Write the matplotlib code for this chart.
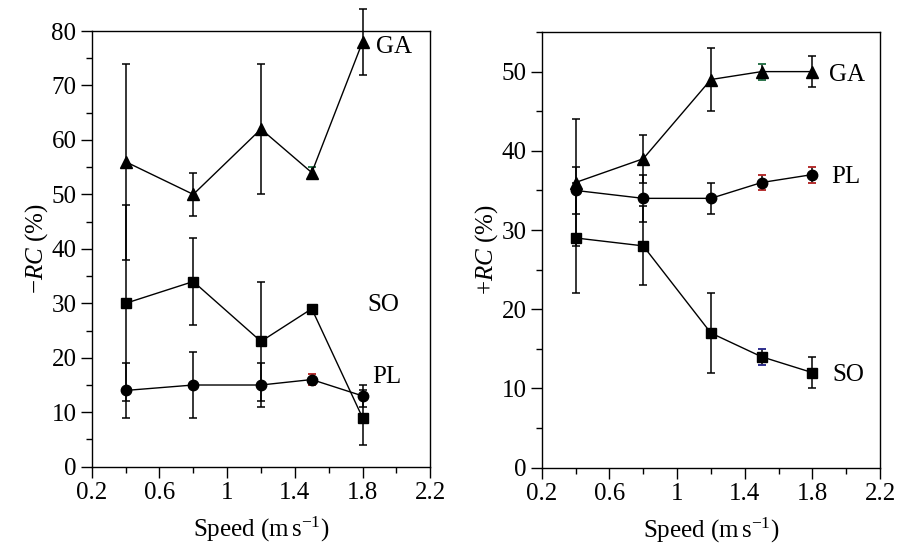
import matplotlib
matplotlib.use("Agg")
import matplotlib.pyplot as plt
from matplotlib.ticker import MultipleLocator

plt.rcParams['font.family'] = ['Liberation Serif', 'DejaVu Serif']
plt.rcParams['mathtext.fontset'] = 'custom'
plt.rcParams['mathtext.rm'] = 'Liberation Serif'
plt.rcParams['mathtext.it'] = 'Liberation Serif:italic'

speed = [0.4, 0.8, 1.2, 1.5, 1.8]

# Left panel: -RC (%)
neg_GA = [56, 50, 62, 54, 78]
neg_GA_err = [18, 4, 12, 1, 6]
neg_SO = [30, 34, 23, 29, 9]
neg_SO_err = [18, 8, 11, 0.6, 5]
neg_PL = [14, 15, 15, 16, 13]
neg_PL_err = [5, 6, 4, 1, 2]

# Right panel: +RC (%)
pos_GA = [36, 39, 49, 50, 50]
pos_GA_err = [8, 3, 4, 1, 2]
pos_PL = [35, 34, 34, 36, 37]
pos_PL_err = [3, 3, 2, 1, 1]
pos_SO = [29, 28, 17, 14, 12]
pos_SO_err = [7, 5, 5, 1, 2]

xticks = [0.2, 0.6, 1.0, 1.4, 1.8, 2.2]
xticklabels = ['0.2', '0.6', '1', '1.4', '1.8', '2.2']

fig = plt.figure(figsize=(9.1, 5.47), dpi=100)
axL = fig.add_axes([0.1008, 0.1468, 0.372, 0.7965])
axR = fig.add_axes([0.5953, 0.1450, 0.3718, 0.7965])

FS = 18

def series(ax, y, err, marker, ms, tiny_color):
    ax.plot(speed, y, color='black', lw=1.0, marker=marker, ms=ms,
            mfc='black', mec='black', zorder=3)
    for xx, yy, ee in zip(speed, y, err):
        ax.errorbar([xx], [yy], yerr=[ee], fmt='none', ecolor='black',
                    elinewidth=1.1, capsize=3, capthick=1.1, zorder=2)
        if ee <= 1:
            ax.errorbar([xx], [yy], yerr=[ee], fmt='none', ecolor=tiny_color,
                        elinewidth=0, capsize=3, capthick=1.1, zorder=2.5)

def style(ax, ymax, ymajor, yminor):
    ax.set_xlim(0.2, 2.2)
    ax.set_ylim(0, ymax)
    ax.set_xticks(xticks)
    ax.set_xticklabels(xticklabels)
    ax.xaxis.set_minor_locator(MultipleLocator(0.2))
    ax.yaxis.set_major_locator(MultipleLocator(ymajor))
    ax.yaxis.set_minor_locator(MultipleLocator(yminor))
    ax.tick_params(which='major', direction='out', length=8, width=1.0,
                   labelsize=FS, top=False, right=False, pad=3)
    ax.tick_params(which='minor', direction='out', length=4, width=1.0,
                   top=False, right=False)
    for s in ax.spines.values():
        s.set_linewidth(1.0)
    ax.set_xlabel('Speed (m$\\,$s$^{-1}$)', fontsize=FS, labelpad=8)

series(axL, neg_GA, neg_GA_err, '^', 8, '#2e8b57')
series(axL, neg_PL, neg_PL_err, 'o', 7.5, '#dd3333')
series(axL, neg_SO, neg_SO_err, 's', 7.5, '#3333aa')
style(axL, 80, 10, 5)
axL.set_ylabel('$-\\mathit{RC}$ (%)', fontsize=FS, labelpad=1)
axL.text(1.88, 77.0, 'GA', fontsize=FS, va='center', ha='left')
axL.text(1.83, 29.6, 'SO', fontsize=FS, va='center', ha='left')
axL.text(1.86, 16.5, 'PL', fontsize=FS, va='center', ha='left')

series(axR, pos_GA, pos_GA_err, '^', 8, '#2e8b57')
series(axR, pos_PL, pos_PL_err, 'o', 7.5, '#dd3333')
series(axR, pos_SO, pos_SO_err, 's', 7.5, '#3333aa')
style(axR, 55, 10, 5)
axR.set_ylabel('$+\\mathit{RC}$ (%)', fontsize=FS, labelpad=1)
axR.text(1.90, 49.6, 'GA', fontsize=FS, va='center', ha='left')
axR.text(1.914, 36.7, 'PL', fontsize=FS, va='center', ha='left')
axR.text(1.92, 11.7, 'SO', fontsize=FS, va='center', ha='left')

for ax in (axL, axR):
    for art in ax.get_children():
        try:
            art.set_clip_on(False)
        except Exception:
            pass

fig.savefig('out.png', dpi=100)
